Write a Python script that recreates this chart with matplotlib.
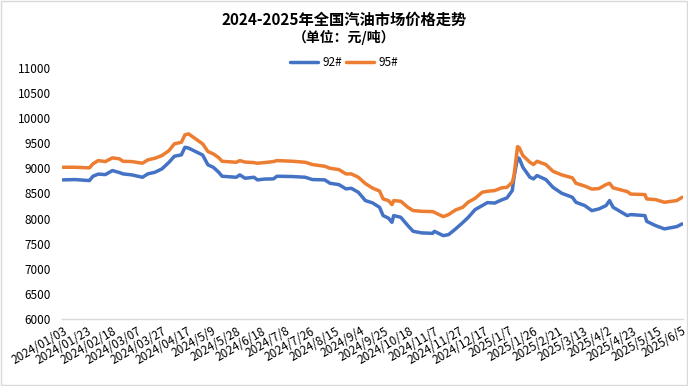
import matplotlib
matplotlib.use("Agg")
import matplotlib.pyplot as plt
from matplotlib.patches import Rectangle

plt.rcParams['font.family'] = ['Noto Sans CJK SC', 'DejaVu Sans']
plt.rcParams['axes.unicode_minus'] = False

# ==========================================
# 数据 (从图中读取, 横轴为交易日序号)
# ==========================================
day_idx = [0, 7, 15, 17, 20, 24, 28, 32, 34, 39,
           45, 48, 52, 56, 60, 63, 67, 69, 71, 75,
           79, 82, 85, 88, 90, 98, 100, 103, 108, 110,
           114, 119, 121, 130, 137, 141, 148, 151, 156, 160,
           163, 167, 171, 175, 179, 181, 184, 186, 187, 191,
           195, 198, 203, 209, 210, 215, 218, 222, 226, 229,
           233, 237, 240, 244, 248, 251, 254, 255, 257, 258,
           260, 264, 266, 268, 273, 277, 282, 288, 290, 295,
           299, 303, 307, 309, 311, 319, 321, 329, 330, 335,
           340, 347, 350]

price_92 = [8769, 8775, 8755, 8841, 8884, 8874, 8954, 8914, 8888, 8868,
            8821, 8888, 8920, 8988, 9119, 9239, 9267, 9418, 9402, 9333,
            9263, 9068, 9020, 8924, 8841, 8821, 8868, 8801, 8821, 8769,
            8785, 8789, 8841, 8835, 8821, 8775, 8769, 8701, 8675, 8590,
            8602, 8522, 8357, 8311, 8223, 8058, 8008, 7924, 8058, 8024,
            7859, 7745, 7713, 7705, 7745, 7659, 7679, 7793, 7918, 8018,
            8177, 8257, 8317, 8307, 8370, 8410, 8556, 8821, 9213, 9193,
            9020, 8821, 8789, 8855, 8775, 8621, 8502, 8422, 8323, 8257,
            8157, 8191, 8257, 8357, 8223, 8058, 8078, 8058, 7944, 7859,
            7793, 7839, 7892]

price_95 = [9020, 9020, 9008, 9088, 9153, 9133, 9207, 9187, 9139, 9133,
            9100, 9167, 9199, 9253, 9352, 9486, 9518, 9665, 9685, 9586,
            9486, 9333, 9287, 9213, 9139, 9119, 9153, 9123, 9113, 9100,
            9113, 9133, 9153, 9139, 9119, 9074, 9040, 9000, 8974, 8888,
            8888, 8821, 8695, 8606, 8546, 8390, 8357, 8277, 8357, 8343,
            8223, 8157, 8143, 8137, 8123, 8038, 8078, 8171, 8223, 8323,
            8402, 8522, 8542, 8556, 8610, 8621, 8721, 8855, 9432, 9406,
            9253, 9119, 9074, 9139, 9074, 8940, 8868, 8809, 8701, 8645,
            8586, 8596, 8675, 8701, 8610, 8536, 8486, 8476, 8390, 8376,
            8323, 8357, 8422]

tick_labels = ["2024/01/03", "2024/01/23", "2024/02/18", "2024/03/07", "2024/03/27",
               "2024/04/17", "2024/5/9", "2024/5/28", "2024/6/18", "2024/7/8",
               "2024/7/26", "2024/8/15", "2024/9/4", "2024/9/25", "2024/10/18",
               "2024/11/7", "2024/11/27", "2024/12/17", "2025/1/7", "2025/1/26",
               "2025/2/21", "2025/3/13", "2025/4/2", "2025/4/23", "2025/5/15",
               "2025/6/5"]
tick_step = 14

# ==========================================
# 绘图
# ==========================================
fig = plt.figure(figsize=(6.88, 3.86), dpi=100)
ax = fig.add_axes([0.0901, 0.1736, 0.9026, 0.6508])

ax.plot(day_idx, price_92, color='#4472C4', lw=2.5, label='92#', solid_capstyle='round')
ax.plot(day_idx, price_95, color='#ED7D31', lw=2.5, label='95#', solid_capstyle='round')

ax.set_ylim(6000, 11000)
ax.set_yticks(range(6000, 11001, 500))
ax.set_xlim(-0.5, 350.5)
ax.set_xticks([i * tick_step for i in range(len(tick_labels))])
ax.set_xticklabels(tick_labels, rotation=30, ha='right', va='top', rotation_mode='anchor')

ax.tick_params(axis='both', length=0, labelsize=8.5, colors='#000000')
ax.tick_params(axis='y', pad=8)
ax.tick_params(axis='x', pad=4)
for s in ['top', 'right', 'left']:
    ax.spines[s].set_visible(False)
ax.spines['bottom'].set_color('#D9D9D9')
ax.spines['bottom'].set_linewidth(1.0)

fig.text(0.5, 0.948, "2024-2025年全国汽油市场价格走势", ha='center', va='center',
         fontsize=11, fontweight='bold')
fig.text(0.5, 0.904, "（单位：元/吨）", ha='center', va='center',
         fontsize=10, fontweight='bold')

fig.legend(loc='center', bbox_to_anchor=(0.5, 0.839), ncol=2, frameon=False,
           fontsize=8.5, handlelength=2.4, columnspacing=0.3, handletextpad=0.35)

fig.add_artist(Rectangle((0.001, 0.002), 0.997, 0.996, transform=fig.transFigure,
                         fill=False, edgecolor='#D9D9D9', lw=1.0))

plt.savefig("out.png", dpi=100)
